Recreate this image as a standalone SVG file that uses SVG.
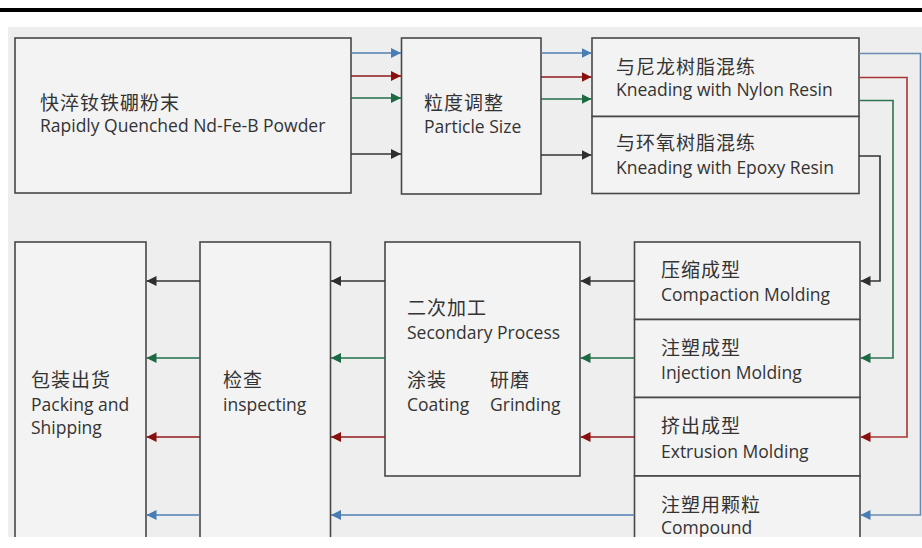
<svg xmlns="http://www.w3.org/2000/svg" width="922" height="548" viewBox="0 0 922 548">
<style>
.box{fill:#f3f3f3;stroke:#474747;stroke-width:1.6}
.cn{font-family:"Noto Sans CJK SC","Noto Sans",sans-serif;font-size:19px;letter-spacing:1px;fill:#333}
.en{font-family:"Open Sans","Noto Sans",sans-serif;font-size:17.5px;fill:#333}
.c{fill:none;stroke-width:1.6}
.bl{stroke:#4f7fb2}.rd{stroke:#8e1a1a}.gr{stroke:#206c47}.bk{stroke:#333}
.blv{stroke:#6a8db3}.rdv{stroke:#a83434}.grv{stroke:#2e7452}
</style>
<defs>
<marker id="aBl" markerUnits="userSpaceOnUse" markerWidth="10" markerHeight="10" refX="10" refY="5" orient="auto"><path d="M0,0 L10,5 L0,10 z" fill="#4a7db3"/></marker>
<marker id="aRd" markerUnits="userSpaceOnUse" markerWidth="10" markerHeight="10" refX="10" refY="5" orient="auto"><path d="M0,0 L10,5 L0,10 z" fill="#8a1010"/></marker>
<marker id="aGr" markerUnits="userSpaceOnUse" markerWidth="10" markerHeight="10" refX="10" refY="5" orient="auto"><path d="M0,0 L10,5 L0,10 z" fill="#1b6a42"/></marker>
<marker id="aBk" markerUnits="userSpaceOnUse" markerWidth="10" markerHeight="10" refX="10" refY="5" orient="auto"><path d="M0,0 L10,5 L0,10 z" fill="#2e2e2e"/></marker>
<clipPath id="area"><rect x="8" y="27" width="914" height="510"/></clipPath>
</defs>
<rect width="922" height="548" fill="#ffffff"/>
<rect x="0" y="8" width="922" height="4" fill="#000"/>
<rect x="8" y="27" width="914" height="510" fill="#eeeeee"/>
<g clip-path="url(#area)">
<g id="n-powder"><rect class="box" x="15" y="38" width="336" height="155"/>
<text class="cn" x="40" y="110">快淬钕铁硼粉末</text>
<text class="en" x="40" y="132">Rapidly Quenched Nd-Fe-B Powder</text></g>
<g id="n-particle"><rect class="box" x="401.5" y="38" width="139.5" height="156"/>
<text class="cn" x="424" y="110">粒度调整</text>
<text class="en" x="424" y="133">Particle Size</text></g>
<g id="n-nylon"><rect class="box" x="592" y="38" width="267" height="78.5"/>
<text class="cn" x="616" y="74">与尼龙树脂混练</text>
<text class="en" x="616" y="96">Kneading with Nylon Resin</text></g>
<g id="n-epoxy"><rect class="box" x="592" y="116.5" width="267" height="77"/>
<text class="cn" x="616" y="150">与环氧树脂混练</text>
<text class="en" x="616" y="174">Kneading with Epoxy Resin</text></g>
<g id="n-compaction"><rect class="box" x="634.5" y="242" width="225.5" height="77.5"/>
<text class="cn" x="661" y="277">压缩成型</text>
<text class="en" x="661" y="301">Compaction Molding</text></g>
<g id="n-injection"><rect class="box" x="634.5" y="319.5" width="225.5" height="78"/>
<text class="cn" x="661" y="355">注塑成型</text>
<text class="en" x="661" y="379">Injection Molding</text></g>
<g id="n-extrusion"><rect class="box" x="634.5" y="397.5" width="225.5" height="78.5"/>
<text class="cn" x="661" y="433">挤出成型</text>
<text class="en" x="661" y="457.5">Extrusion Molding</text></g>
<g id="n-compound"><rect class="box" x="634.5" y="476" width="225.5" height="80"/>
<text class="cn" x="661" y="512">注塑用颗粒</text>
<text class="en" x="661" y="534">Compound</text></g>
<g id="n-secondary"><rect class="box" x="385" y="242" width="195" height="234"/>
<text class="cn" x="407" y="315">二次加工</text>
<text class="en" x="407" y="339">Secondary Process</text>
<text class="cn" x="407" y="387">涂装</text>
<text class="en" x="407" y="411">Coating</text>
<text class="cn" x="490" y="387">研磨</text>
<text class="en" x="490" y="411">Grinding</text></g>
<g id="n-inspect"><rect class="box" x="200" y="242" width="130.5" height="314"/>
<text class="cn" x="223" y="387">检查</text>
<text class="en" x="223" y="411">inspecting</text></g>
<g id="n-packing"><rect class="box" x="15" y="242" width="131" height="314"/>
<text class="cn" x="31" y="387">包装出货</text>
<text class="en" x="31" y="411">Packing and</text>
<text class="en" x="31" y="433.5">Shipping</text></g>
<g id="connectors">
<path class="c bl" d="M351 53 H401" marker-end="url(#aBl)"/>
<path class="c rd" d="M351 76 H401" marker-end="url(#aRd)"/>
<path class="c gr" d="M351 98 H401" marker-end="url(#aGr)"/>
<path class="c bk" d="M351 154 H401" marker-end="url(#aBk)"/>
<path class="c bl" d="M541 53 H591.5" marker-end="url(#aBl)"/>
<path class="c rd" d="M541 77 H591.5" marker-end="url(#aRd)"/>
<path class="c gr" d="M541 99 H591.5" marker-end="url(#aGr)"/>
<path class="c bk" d="M541 155 H591.5" marker-end="url(#aBk)"/>
<path class="c blv" d="M859 53.5 H920.5 V515 H860.5" marker-end="url(#aBl)"/>
<path class="c rdv" d="M859 77.5 H907 V437 H860.5" marker-end="url(#aRd)"/>
<path class="c grv" d="M859 100.5 H893 V358 H860.5" marker-end="url(#aGr)"/>
<path class="c bk" d="M859 156 H880 V281 H860.5" marker-end="url(#aBk)"/>
<path class="c bk" d="M634.5 281 H580.5" marker-end="url(#aBk)"/>
<path class="c gr" d="M634.5 358 H580.5" marker-end="url(#aGr)"/>
<path class="c rd" d="M634.5 437 H580.5" marker-end="url(#aRd)"/>
<path class="c bl" d="M634.5 515 H331" marker-end="url(#aBl)"/>
<path class="c bk" d="M385 281 H331" marker-end="url(#aBk)"/>
<path class="c gr" d="M385 358 H331" marker-end="url(#aGr)"/>
<path class="c rd" d="M385 437 H331" marker-end="url(#aRd)"/>
<path class="c bk" d="M200 281 H146.5" marker-end="url(#aBk)"/>
<path class="c gr" d="M200 358 H146.5" marker-end="url(#aGr)"/>
<path class="c rd" d="M200 437 H146.5" marker-end="url(#aRd)"/>
<path class="c bl" d="M200 515 H146.5" marker-end="url(#aBl)"/>
</g>
</g>
</svg>
